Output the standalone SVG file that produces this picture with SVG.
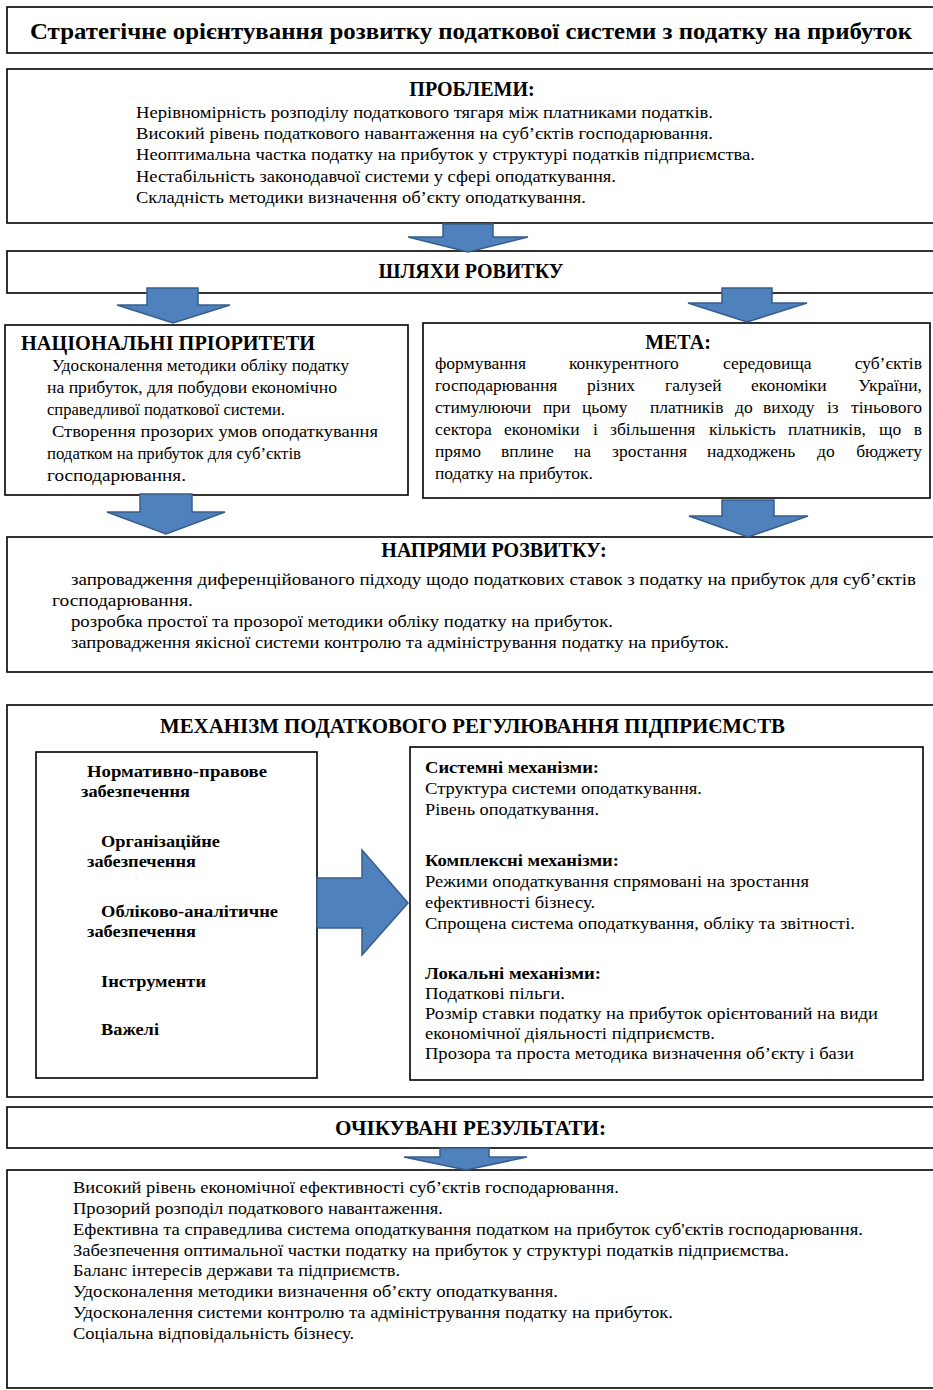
<svg xmlns="http://www.w3.org/2000/svg" width="933" height="1390" viewBox="0 0 933 1390">
<style>
.box{fill:#fff;stroke:#000;stroke-width:1.6}
.arr{fill:#4F81BD;stroke:#385D8A;stroke-width:1.5;stroke-linejoin:miter}
text{font-family:"Liberation Serif","Times New Roman",serif;fill:#000}
.t{font-size:17.5px}
.h{font-size:20px;font-weight:bold}
.b{font-size:17.5px;font-weight:bold}
.c{text-anchor:middle}
.e{text-anchor:end}
</style>
<rect width="933" height="1390" fill="#fff"/>

<g id="title">
<rect class="box" x="7" y="7" width="940" height="46"/>
<text x="30" y="39" font-size="23.5" font-weight="bold" textLength="882" lengthAdjust="spacingAndGlyphs">Стратегічне орієнтування розвитку податкової системи з податку на прибуток</text>
</g>

<g id="problems">
<rect class="box" x="7" y="69" width="940" height="154"/>
<text class="h c" x="472" y="96">ПРОБЛЕМИ:</text>
<text class="t" x="136" y="118" textLength="577" lengthAdjust="spacingAndGlyphs">Нерівномірність розподілу податкового тягаря між платниками податків.</text>
<text class="t" x="136" y="139" textLength="577" lengthAdjust="spacingAndGlyphs">Високий рівень податкового навантаження на суб’єктів господарювання.</text>
<text class="t" x="136" y="160" textLength="619" lengthAdjust="spacingAndGlyphs">Неоптимальна частка податку на прибуток у структурі податків підприємства.</text>
<text class="t" x="136" y="182" textLength="480" lengthAdjust="spacingAndGlyphs">Нестабільність законодавчої системи у сфері оподаткування.</text>
<text class="t" x="136" y="203" textLength="450" lengthAdjust="spacingAndGlyphs">Складність методики визначення об’єкту оподаткування.</text>
</g>

<g id="ways">
<rect class="box" x="7" y="251" width="940" height="42"/>
<text class="h c" x="471" y="278">ШЛЯХИ РОВИТКУ</text>
</g>

<g id="national">
<rect class="box" x="5" y="325" width="403" height="170"/>
<text class="h" x="21" y="350" textLength="294" lengthAdjust="spacingAndGlyphs">НАЦІОНАЛЬНІ ПРІОРИТЕТИ</text>
<text class="t" x="52" y="371" textLength="297" lengthAdjust="spacingAndGlyphs">Удосконалення методики обліку податку</text>
<text class="t" x="47" y="393" textLength="290" lengthAdjust="spacingAndGlyphs">на прибуток, для побудови економічно</text>
<text class="t" x="47" y="415" textLength="238" lengthAdjust="spacingAndGlyphs">справедливої податкової системи.</text>
<text class="t" x="52" y="437" textLength="326" lengthAdjust="spacingAndGlyphs">Створення прозорих умов оподаткування</text>
<text class="t" x="47" y="459" textLength="254" lengthAdjust="spacingAndGlyphs">податком на прибуток для суб’єктів</text>
<text class="t" x="47" y="481" textLength="139" lengthAdjust="spacingAndGlyphs">господарювання.</text>
</g>

<g id="goal">
<rect class="box" x="423" y="323" width="507" height="175"/>
<text class="h c" x="678" y="349">МЕТА:</text>
<text class="t" y="369"><tspan x="435">формування</tspan><tspan x="569">конкурентного</tspan><tspan x="723">середовища</tspan></text>
<text class="t e" x="922" y="369">суб’єктів</text>
<text class="t" y="391"><tspan x="435">господарювання</tspan><tspan x="587">різних</tspan><tspan x="665">галузей</tspan><tspan x="751">економіки</tspan></text>
<text class="t e" x="922" y="391">України,</text>
<text class="t" y="413"><tspan x="435">стимулюючи</tspan><tspan x="543">при</tspan><tspan x="582">цьому</tspan><tspan x="650">платників</tspan><tspan x="735">до</tspan><tspan x="763">виходу</tspan><tspan x="827">із</tspan></text>
<text class="t e" x="922" y="413">тіньового</text>
<text class="t" y="435"><tspan x="435">сектора</tspan><tspan x="504">економіки</tspan><tspan x="593">і</tspan><tspan x="610">збільшення</tspan><tspan x="709">кількість</tspan><tspan x="788">платників,</tspan><tspan x="879">що</tspan></text>
<text class="t e" x="922" y="435">в</text>
<text class="t" y="457"><tspan x="435">прямо</tspan><tspan x="501">вплине</tspan><tspan x="574">на</tspan><tspan x="612">зростання</tspan><tspan x="707">надходжень</tspan><tspan x="817">до</tspan></text>
<text class="t e" x="922" y="457">бюджету</text>
<text class="t" x="435" y="479">податку на прибуток.</text>
</g>

<g id="directions">
<rect class="box" x="7" y="537" width="940" height="135"/>
<text class="h c" x="494" y="557">НАПРЯМИ РОЗВИТКУ:</text>
<text class="t" x="71" y="585" textLength="845" lengthAdjust="spacingAndGlyphs">запровадження диференційованого підходу щодо податкових ставок з податку на прибуток для суб’єктів</text>
<text class="t" x="52" y="606" textLength="141" lengthAdjust="spacingAndGlyphs">господарювання.</text>
<text class="t" x="71" y="627" textLength="542" lengthAdjust="spacingAndGlyphs">розробка простої та прозорої методики обліку податку на прибуток.</text>
<text class="t" x="71" y="648" textLength="658" lengthAdjust="spacingAndGlyphs">запровадження якісної системи контролю та адміністрування податку на прибуток.</text>
</g>

<g id="mechanism">
<rect class="box" x="7" y="705" width="940" height="392"/>
<text class="h" x="160" y="733" textLength="625" lengthAdjust="spacingAndGlyphs">МЕХАНІЗМ ПОДАТКОВОГО РЕГУЛЮВАННЯ ПІДПРИЄМСТВ</text>
</g>

<g id="support">
<rect class="box" x="36" y="752" width="281" height="326"/>
<text class="b" x="87" y="777" textLength="180" lengthAdjust="spacingAndGlyphs">Нормативно-правове</text>
<text class="b" x="81" y="797" textLength="109" lengthAdjust="spacingAndGlyphs">забезпечення</text>
<text class="b" x="101" y="847" textLength="119" lengthAdjust="spacingAndGlyphs">Організаційне</text>
<text class="b" x="87" y="867" textLength="109" lengthAdjust="spacingAndGlyphs">забезпечення</text>
<text class="b" x="101" y="917" textLength="177" lengthAdjust="spacingAndGlyphs">Обліково-аналітичне</text>
<text class="b" x="87" y="937" textLength="109" lengthAdjust="spacingAndGlyphs">забезпечення</text>
<text class="b" x="101" y="987" textLength="105" lengthAdjust="spacingAndGlyphs">Інструменти</text>
<text class="b" x="101" y="1035" textLength="58" lengthAdjust="spacingAndGlyphs">Важелі</text>
</g>

<g id="mechanisms">
<rect class="box" x="410" y="747" width="513" height="333"/>
<text class="b" x="425" y="773" textLength="174" lengthAdjust="spacingAndGlyphs">Системні механізми:</text>
<text class="t" x="425" y="794" textLength="277" lengthAdjust="spacingAndGlyphs">Структура системи оподаткування.</text>
<text class="t" x="425" y="815" textLength="174" lengthAdjust="spacingAndGlyphs">Рівень оподаткування.</text>
<text class="b" x="425" y="866" textLength="194" lengthAdjust="spacingAndGlyphs">Комплексні механізми:</text>
<text class="t" x="425" y="887" textLength="384" lengthAdjust="spacingAndGlyphs">Режими оподаткування спрямовані на зростання</text>
<text class="t" x="425" y="908" textLength="170" lengthAdjust="spacingAndGlyphs">ефективності бізнесу.</text>
<text class="t" x="425" y="929" textLength="430" lengthAdjust="spacingAndGlyphs">Спрощена система оподаткування, обліку та звітності.</text>
<text class="b" x="425" y="979" textLength="176" lengthAdjust="spacingAndGlyphs">Локальні механізми:</text>
<text class="t" x="425" y="999" textLength="140" lengthAdjust="spacingAndGlyphs">Податкові пільги.</text>
<text class="t" x="425" y="1019" textLength="453" lengthAdjust="spacingAndGlyphs">Розмір ставки податку на прибуток орієнтований на види</text>
<text class="t" x="425" y="1039" textLength="290" lengthAdjust="spacingAndGlyphs">економічної діяльності підприємств.</text>
<text class="t" x="425" y="1059" textLength="429" lengthAdjust="spacingAndGlyphs">Прозора та проста методика визначення об’єкту і бази</text>
</g>

<g id="results-title">
<rect class="box" x="7" y="1107" width="940" height="41"/>
<text class="h" x="335" y="1135" textLength="271" lengthAdjust="spacingAndGlyphs">ОЧІКУВАНІ РЕЗУЛЬТАТИ:</text>
</g>

<g id="results">
<rect class="box" x="7" y="1170" width="940" height="218"/>
<text class="t" x="73" y="1193" textLength="546" lengthAdjust="spacingAndGlyphs">Високий рівень економічної ефективності суб’єктів господарювання.</text>
<text class="t" x="73" y="1214" textLength="370" lengthAdjust="spacingAndGlyphs">Прозорий розподіл податкового навантаження.</text>
<text class="t" x="73" y="1234.5" textLength="790" lengthAdjust="spacingAndGlyphs">Ефективна та справедлива система оподаткування податком на прибуток суб'єктів господарювання.</text>
<text class="t" x="73" y="1255.5" textLength="716" lengthAdjust="spacingAndGlyphs">Забезпечення оптимальної частки податку на прибуток у структурі податків підприємства.</text>
<text class="t" x="73" y="1276" textLength="327" lengthAdjust="spacingAndGlyphs">Баланс інтересів держави та підприємств.</text>
<text class="t" x="73" y="1296.5" textLength="485" lengthAdjust="spacingAndGlyphs">Удосконалення методики визначення об’єкту оподаткування.</text>
<text class="t" x="73" y="1317.5" textLength="600" lengthAdjust="spacingAndGlyphs">Удосконалення системи контролю та адміністрування податку на прибуток.</text>
<text class="t" x="73" y="1338.5" textLength="281" lengthAdjust="spacingAndGlyphs">Соціальна відповідальність бізнесу.</text>
</g>

<g id="connectors">
<polygon class="arr" points="443,224 493,224 493,237 528,237 468,252 408,237 443,237"/>
<polygon class="arr" points="147,288 198,288 198,305 230,305 173,323 117,305 147,305"/>
<polygon class="arr" points="722,288 772,288 772,303 807,303 747,322 688,303 722,303"/>
<polygon class="arr" points="140,494 192,494 192,512 225,512 166,534 107,512 140,512"/>
<polygon class="arr" points="722,500 774,500 774,516 808,516 748,537 689,516 722,516"/>
<polygon class="arr" points="317,878 362,878 362,850 408,903 362,955 362,928 317,928"/>
<polygon class="arr" points="440,1148 489,1148 489,1157 527,1157 466,1170 404,1157 440,1157"/>
</g>
</svg>
